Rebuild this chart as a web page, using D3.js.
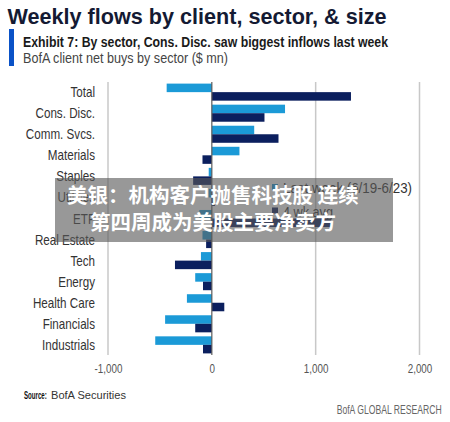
<!DOCTYPE html>
<html><head><meta charset="utf-8">
<script src="https://cdn.jsdelivr.net/npm/d3@7"></script>
<style>
html,body{margin:0;padding:0;background:#fff;}
svg{display:block;font-family:"Liberation Sans",Arial,sans-serif;}
</style></head>
<body>
<svg id="chart" width="450" height="422"></svg>
<script>
const categories = ["Total","Cons. Disc.","Comm. Svcs.","Materials","Staples","Utilities","ETF","Real Estate","Tech","Energy","Health Care","Financials","Industrials"];
const lastWeek = [-435, 705, 408, 266, -30, -30, -120, -90, -105, -160, -240, -450, -545];
const avg4wk   = [1340, 507, 642, -90, -180, 30, 1150, -55, -355, -85, 120, -160, -85];
const seriesNames = ["Last week (6/19-6/23)", "4 wk avg"];
const tickValues = [-1000, 0, 1000, 2000];

(function () {
const colors = ["#1b9ad7", "#0b1f5e"];
const svg = d3.select("#chart");
const NARROW = 0.82;

function fitText(parent, x, y, str, size, len, opts = {}) {
  const t = parent.append("text").attr("x", x).attr("y", y).attr("font-size", size)
    .attr("fill", opts.fill || "#333").attr("textLength", len).attr("lengthAdjust", "spacingAndGlyphs")
    .text(str);
  if (opts.weight) t.attr("font-weight", opts.weight);
  if (opts.anchor) t.attr("text-anchor", opts.anchor);
  return t;
}

// Title block
fitText(svg, 7.5, 23.5, "Weekly flows by client, sector, & size", 21.5, 379, {weight: "bold", fill: "#141a33"});
svg.append("rect").attr("x", 9).attr("y", 29).attr("width", 5).attr("height", 37).attr("fill", "#0a52c7");
fitText(svg, 23, 46.5, "Exhibit 7: By sector, Cons. Disc. saw biggest inflows last week", 14.5, 365, {weight: "bold", fill: "#1a1a1a"});
fitText(svg, 23, 63, "BofA client net buys by sector ($ mn)", 14.5, 205, {fill: "#444"});

// Scales
const x = d3.scaleLinear().domain([-1000, 2000]).range([108, 419.5]);
const y = d3.scaleBand().domain(categories).range([81.5, 355.5]).paddingInner(0.19).paddingOuter(0.1);
const sub = d3.scaleBand().domain([0, 1]).range([0, y.bandwidth()]);

const yTop = 82, yBottom = 355;
// gridlines
svg.append("g").selectAll("line").data(tickValues.filter(d => d !== 0)).join("line")
  .attr("x1", d => x(d)).attr("x2", d => x(d)).attr("y1", yTop).attr("y2", yBottom)
  .attr("stroke", "#c8c8c8").attr("stroke-width", 1.5);

// bars
const rows = categories.map((c, i) => ({c, vals: [lastWeek[i], avg4wk[i]]}));
const g = svg.append("g");
rows.forEach(r => {
  r.vals.forEach((v, k) => {
    g.append("rect")
      .attr("x", x(Math.min(0, v))).attr("width", Math.abs(x(v) - x(0)))
      .attr("y", y(r.c) + sub(k)).attr("height", sub.bandwidth())
      .attr("fill", colors[k]);
  });
});

// zero line
svg.append("line").attr("x1", x(0)).attr("x2", x(0)).attr("y1", yTop).attr("y2", yBottom)
  .attr("stroke", "#5a5a5a").attr("stroke-width", 1.2);

// category labels (narrow)
svg.append("g").selectAll("text").data(categories).join("text")
  .attr("transform", d => `translate(95,${y(d) + y.bandwidth() / 2 + 5}) scale(${NARROW},1)`)
  .attr("text-anchor", "end").attr("font-size", 14.2).attr("fill", "#333").text(d => d);

// x axis tick labels
const loc = d3.formatLocale({decimal: ".", thousands: ",", grouping: [3], currency: ["$", ""], minus: "-"});
const axis = d3.axisBottom(x).tickValues(tickValues).tickSize(0).tickPadding(0)
  .tickFormat(loc.format(","));
const ax = svg.append("g").attr("transform", "translate(0,364)").call(axis);
ax.select(".domain").remove();
ax.attr("font-family", null).attr("font-size", null);
ax.selectAll("text").attr("font-size", 12).attr("fill", "#555")
  .attr("transform", `scale(${NARROW},1)`);

// legend
const leg = svg.append("g");
const legLens = [129, 50];
seriesNames.forEach((s, k) => {
  const ly = 187 + k * 23.5;
  leg.append("rect").attr("x", 272).attr("y", ly - 3).attr("width", 6).attr("height", 6).attr("fill", colors[k]);
  fitText(leg, 283, ly + 6, s, 15.5, legLens[k], {fill: "#333"});
});

// source
fitText(svg, 24, 399, "Source:", 10.5, 22.7, {weight: "bold", fill: "#111"});
fitText(svg, 51, 399, "BofA Securities", 10.5, 75, {fill: "#333"});
fitText(svg, 336.7, 414, "BofA GLOBAL RESEARCH", 12, 105, {fill: "#666"});

// overlay banner
svg.append("rect").attr("x", 55).attr("y", 178).attr("width", 338).attr("height", 64)
  .attr("fill", "rgba(88,88,88,0.62)");
const banner = ["美银：机构客户抛售科技股 连续", "第四周成为美股主要净卖方"];
const bx = [67, 90], by = [203, 229.5];
banner.forEach((t, i) => {
  svg.append("text").attr("x", bx[i]).attr("y", by[i])
    .attr("font-family", "Noto Sans CJK SC, sans-serif").attr("font-weight", "bold")
    .attr("font-size", 20.5).attr("fill", "#fff").text(t);
});
})();
</script>
</body></html>
